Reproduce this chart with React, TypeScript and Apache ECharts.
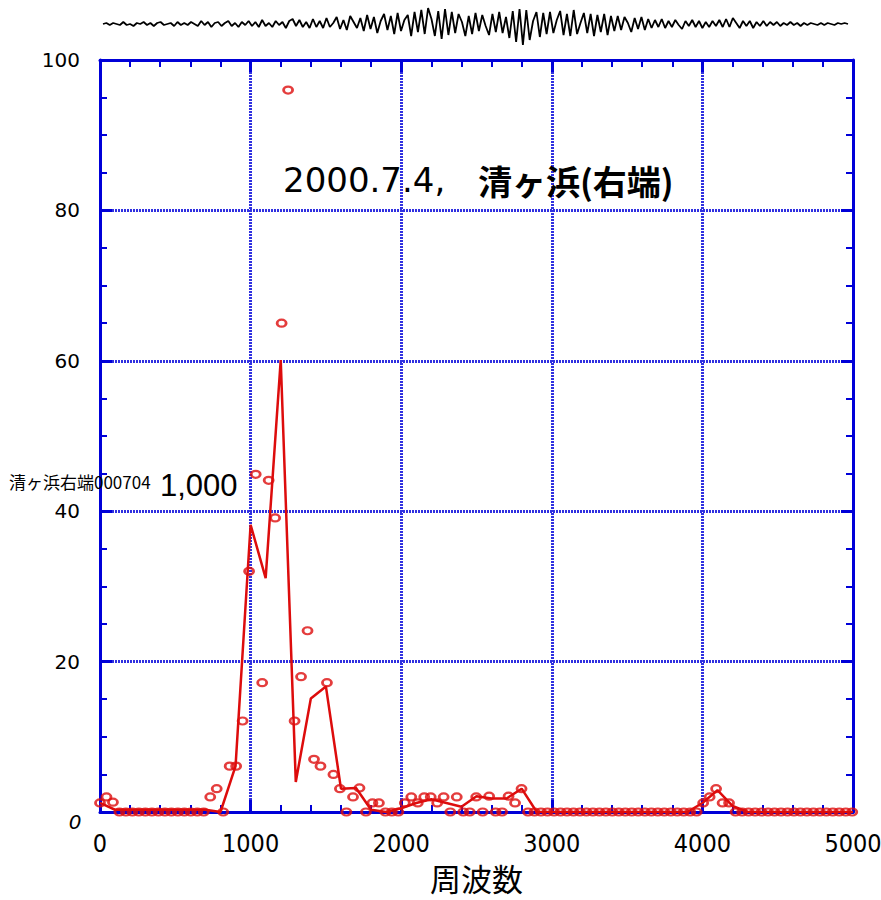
import React, { useEffect, useRef } from 'react';
import * as echarts from 'echarts';

// Spectrum sample frequencies (Hz) and amplitudes (scatter "o" marks)
const freqBins = [
  0, 43, 86, 129, 172, 215, 258, 301, 345, 388, 431, 474, 517, 560, 603, 646, 689, 732, 775, 818,
  861, 904, 947, 990, 1034, 1077, 1120, 1163, 1206, 1249, 1292, 1335, 1378, 1421, 1464, 1507, 1550, 1593, 1636, 1680,
  1723, 1766, 1809, 1852, 1895, 1938, 1981, 2024, 2067, 2110, 2153, 2196, 2239, 2282, 2326, 2369, 2412, 2455, 2498, 2541,
  2584, 2627, 2670, 2713, 2756, 2799, 2842, 2885, 2928, 2971, 3015, 3058, 3101, 3144, 3187, 3230, 3273, 3316, 3359, 3402,
  3445, 3488, 3531, 3574, 3618, 3661, 3704, 3747, 3790, 3833, 3876, 3919, 3962, 4005, 4048, 4091, 4134, 4177, 4220, 4264,
  4307, 4350, 4393, 4436, 4479, 4522, 4565, 4608, 4651, 4694, 4737, 4780, 4823, 4866, 4909, 4952, 4995,
];
const amplitudes = [
  1.2, 2.0, 1.3, 0, 0, 0, 0, 0, 0, 0, 0, 0, 0, 0, 0, 0, 0, 2.0, 3.1, 0,
  6.1, 6.1, 12.1, 32.0, 44.9, 17.2, 44.1, 39.1, 65.0, 96.0, 12.1, 18.0, 24.1, 7.0, 6.1, 17.2, 5.0, 3.1, 0, 2.0,
  3.2, 0, 1.2, 1.2, 0, 0, 0, 1.2, 2.0, 1.2, 2.0, 2.0, 1.2, 2.0, 0, 2.0, 0, 0, 2.0, 0,
  2.1, 0, 0, 2.1, 1.2, 3.1, 0, 0, 0, 0, 0, 0, 0, 0, 0, 0, 0, 0, 0, 0,
  0, 0, 0, 0, 0, 0, 0, 0, 0, 0, 0, 0, 0, 1.2, 2.0, 3.1, 1.2, 1.2, 0, 0,
  0, 0, 0, 0, 0, 0, 0, 0, 0, 0, 0, 0, 0, 0, 0, 0, 0,
];

// 100 Hz band values (red line)
const lineFreqs = [
  0, 100, 200, 300, 400, 500, 600, 700, 800, 900, 1000, 1100, 1200, 1300, 1400, 1500, 1600, 1700, 1800, 1900,
  2000, 2100, 2200, 2300, 2400, 2500, 2600, 2700, 2800, 2900, 3000, 3100, 3200, 3300, 3400, 3500, 3600, 3700, 3800, 3900,
  4000, 4100, 4200, 4300, 4400, 4500, 4600, 4700, 4800, 4900, 5000,
];
const lineValues = [
  1.2, 0.3, 0.3, 0.3, 0.3, 0.3, 0.3, 0.3, 0, 6.1, 38.2, 31.1, 60.1, 4.0, 15.1, 16.7, 3.1, 3.2, 0.3, 0,
  0.5, 1.2, 1.7, 1.2, 0.7, 2.1, 1.8, 1.8, 3.1, 0, 0, 0, 0, 0, 0, 0, 0, 0, 0, 0,
  1.2, 2.9, 0.8, 0, 0, 0, 0, 0, 0, 0, 0,
];

// Waveform trace at the top (relative amplitude)
const waveform = [
  0, 1, -1, 1, 0, -1, 2, -1, 0, -2, 1, 0, 2, -1, 1, -2, 1, 2, -1, 0, 1, -2, 2, -1, 1, -1, 2, 0,
  -2, 3, -1, 2, -3, 1, 2, -2, 1, 3, -2, 1, -3, 2, -1, 3, -2, 2, -3, 4, -2, 1, -3, 3, -1, 2, -4, 3, 5, -2, 4, -3, 2, -4, 5, -3, 3, -4, 6, -3, 1,
  7, -5, 4, -6, 8, 2, -4, 6, -7, 9, -5, 7, -9, 3, 10, -6, 8, -10, 11, -7, 4, 9, -12, 12, -8,
  14, -10, 16, 5, -12, 13, -15, 15, -11, 12,
  -9, 10, 2, -12, 8, -10, 11, -7, 9, -2, -11, 10, -8, 12, -9, 7,
  -14, 13, -18, 15, -21, 14, -16, 3, 12, -13,
  11, -10, 12, -9, 4, 13, -11, 10, -12, 14, -10, 1, 11, -9, 10, -12, 9, -8, 10, -11, 8,
  -7, 8, -6, 7, 1, -8, 6, -5, 7, -6, 5, -4,
  4, -3, 5, -4, 3, -3, 4, -1, -5, 3, -2, 4, -3, 3, -4, 2, -3,
  3, -2, 4, -3, 5, -3, 6, 1, -4, 3, -2, 3, -4, 2, -2, 3, -2,
  2, -1, 2, -2, 1, -1, 2, -1, 1, -2, 1, -1, 1, 0, -1, 1, -1, 1, 0, -1, 1, 0, 1, 0,
];

const TITLE_DATE = '2000.7.4,';
const TITLE_PLACE = '清ヶ浜(右端)';
const X_NAME = '周波数';
const SIDE_LABEL = '清ヶ浜右端000704';
const SIDE_VALUE = '1,000';

export default function App() {
  const ref = useRef<HTMLDivElement>(null);
  useEffect(() => {
    const chart = echarts.init(ref.current!, null, { renderer: 'svg' });
    const blue = '#0000d8';
    const gridBlue = '#3030e0';
    const red = '#dd0c0c';
    const axisCommon = (position: string, labels: boolean, split: boolean) => ({
      position,
      axisLine: { show: true, onZero: false, lineStyle: { color: blue, width: 3 } },
      axisTick: { show: true, inside: true, length: 12, lineStyle: { color: blue, width: 3 } },
      splitLine: { show: split, lineStyle: { color: gridBlue, width: 3, type: [2, 1] } },
      axisLabel: { show: labels },
    });
    chart.setOption({
      animation: false,
      backgroundColor: '#fff',
      grid: [
        { left: 100, top: 60, width: 753, height: 752, show: false, containLabel: false, outerBoundsMode: 'none' },
        { left: 103, top: 2, width: 745, height: 44, show: false, containLabel: false, outerBoundsMode: 'none' },
      ],
      xAxis: [
        {
          ...axisCommon('bottom', true, true),
          gridIndex: 0, type: 'value', min: 0, max: 5000, interval: 1000,
          minorTick: { show: true, splitNumber: 5, length: 7, lineStyle: { color: blue, width: 2 } },
          axisLabel: {
            show: true, color: '#000', fontSize: 25,
            fontFamily: "'DejaVu Sans Condensed', 'Liberation Sans', sans-serif", margin: 19,
            formatter: (v: number) => String(v),
          },
          name: X_NAME, nameLocation: 'middle', nameGap: 47,
          nameTextStyle: { fontSize: 31, lineHeight: 34, color: '#000', fontFamily: "'Noto Sans CJK JP'" },
        },
        {
          ...axisCommon('top', false, false),
          gridIndex: 0, type: 'value', min: 0, max: 5000, interval: 1000,
          minorTick: { show: true, splitNumber: 5, length: 7, lineStyle: { color: blue, width: 2 } },
        },
        { gridIndex: 1, type: 'category', data: waveform.map((_, i) => i), boundaryGap: false, show: false },
      ],
      yAxis: [
        {
          ...axisCommon('left', true, true),
          gridIndex: 0, type: 'value', min: 0, max: 100, interval: 20,
          minorTick: { show: true, splitNumber: 4, length: 7, lineStyle: { color: blue, width: 2 } },
          axisLabel: { show: true, showMinLabel: false, color: '#000', fontSize: 20, fontFamily: "'DejaVu Sans'", margin: 20 },
        },
        {
          ...axisCommon('right', false, false),
          gridIndex: 0, type: 'value', min: 0, max: 100, interval: 20,
          minorTick: { show: true, splitNumber: 4, length: 7, lineStyle: { color: blue, width: 2 } },
        },
        { gridIndex: 1, type: 'value', min: -22, max: 22, show: false },
      ],
      graphic: [
        {
          type: 'text', left: 283, top: 163, z: 10,
          style: {
            text: `{a|${TITLE_DATE}}{b|${TITLE_PLACE}}`,
            rich: {
              a: { fontSize: 34, fontFamily: "'DejaVu Sans'", color: '#000', width: 195 },
              b: { fontSize: 34, fontWeight: 'bold', fontFamily: "'Noto Sans CJK JP'", color: '#000' },
            },
          },
        },
        {
          type: 'text', x: 9, y: 481, z: 10,
          style: { text: SIDE_LABEL, fontSize: 17, fontFamily: "'Noto Sans CJK JP'", fill: '#000', verticalAlign: 'middle' },
        },
        {
          type: 'text', x: 160, y: 485, z: 10,
          style: { text: SIDE_VALUE, fontSize: 31, fontFamily: "'Liberation Sans'", fill: '#000', verticalAlign: 'middle' },
        },
        {
          type: 'text', x: 75, y: 822, z: 10,
          style: { text: '0', fontSize: 20, fontStyle: 'italic', fontFamily: "'DejaVu Sans'", fill: '#000', align: 'center', verticalAlign: 'middle' },
        },
      ],
      series: [
        {
          type: 'line', xAxisIndex: 0, yAxisIndex: 0, z: 3,
          data: lineFreqs.map((f, i) => [f, lineValues[i]]),
          symbol: 'none', lineStyle: { color: red, width: 2.5 },
        },
        {
          type: 'scatter', xAxisIndex: 0, yAxisIndex: 0, z: 4,
          data: freqBins.map((f, i) => [f, amplitudes[i]]),
          symbol: 'path://M0,5A5,5,0,1,1,10,5A5,5,0,1,1,0,5Z',
          symbolSize: [9, 7],
          itemStyle: { color: 'rgba(0,0,0,0)', borderColor: red, borderWidth: 2.5 },
        },
        {
          type: 'line', xAxisIndex: 2, yAxisIndex: 2,
          data: waveform, symbol: 'none', lineStyle: { color: '#000', width: 1.8 },
        },
      ],
    });
    return () => chart.dispose();
  }, []);
  return (
    <div
      ref={ref}
      style={{ position: 'fixed', left: 0, top: 0, width: 881, height: 900, background: '#fff' }}
    />
  );
}
